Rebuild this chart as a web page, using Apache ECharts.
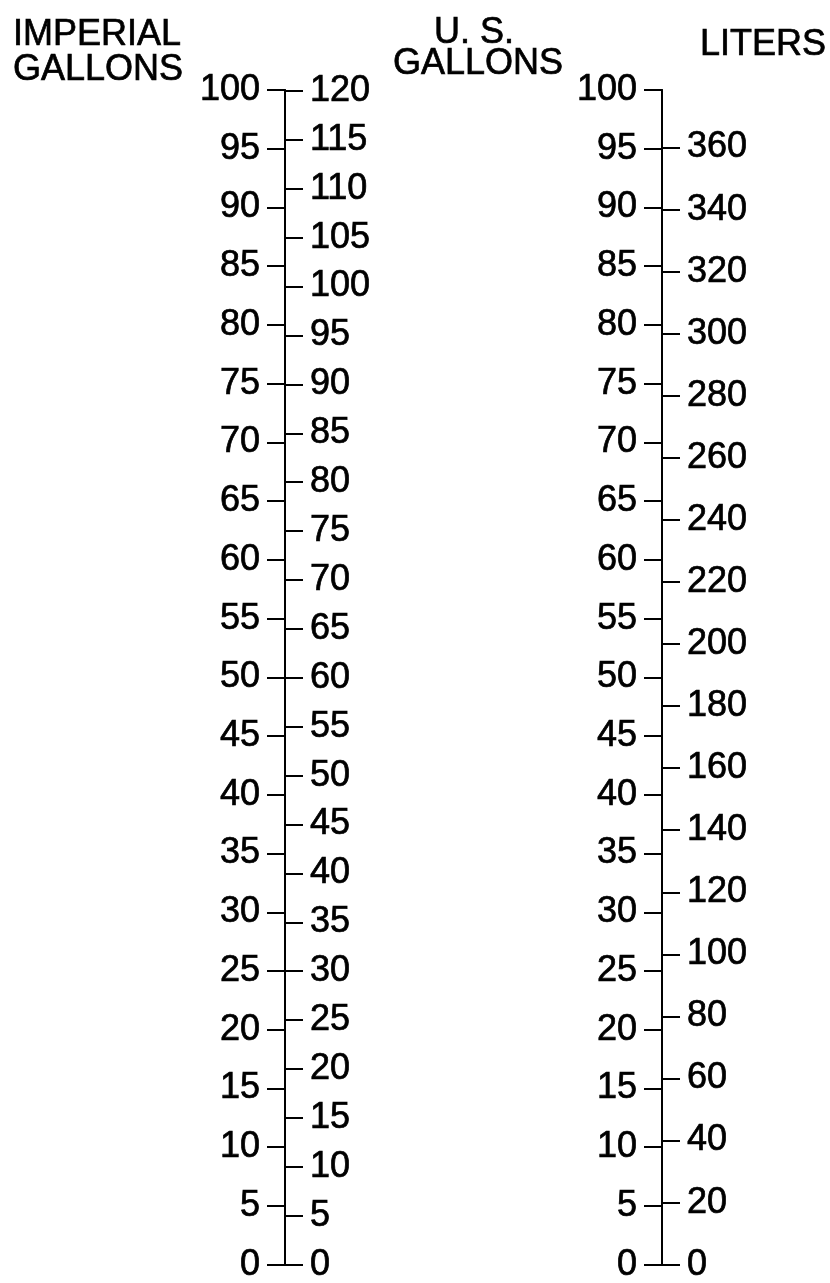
<!DOCTYPE html>
<html>
<head>
<meta charset="utf-8">
<script src="https://cdn.jsdelivr.net/npm/echarts@6/dist/echarts.min.js"></script>
<style>
  html, body { margin: 0; padding: 0; background: #fff; }
  #main { width: 830px; height: 1283px; }
</style>
</head>
<body>
<div id="main"></div>
<script>
// scale values
var impTicks = [0, 5, 10, 15, 20, 25, 30, 35, 40, 45, 50, 55, 60, 65, 70, 75, 80, 85, 90, 95, 100];
var usTicksLeft = [0, 5, 10, 15, 20, 25, 30, 35, 40, 45, 50, 55, 60, 65, 70, 75, 80, 85, 90, 95, 100, 105, 110, 115, 120];
var usTicksRight = [0, 5, 10, 15, 20, 25, 30, 35, 40, 45, 50, 55, 60, 65, 70, 75, 80, 85, 90, 95, 100];
var literTicks = [0, 20, 40, 60, 80, 100, 120, 140, 160, 180, 200, 220, 240, 260, 280, 300, 320, 340, 360];

// conversion factors
var usPerImp = 1.20095;
var litersPerUs = 3.78541;

var font = 'Liberation Sans, Arial, sans-serif';

function scaleAxis(grid, side, max, ticks, tickLen, margin) {
    return {
        type: 'value',
        gridIndex: grid,
        position: side,
        min: 0,
        max: max,
        splitLine: {show: false},
        axisLine: {show: true, onZero: false, lineStyle: {color: '#000', width: 2}},
        axisTick: {show: true, length: tickLen, customValues: ticks, lineStyle: {color: '#000', width: 2}},
        axisLabel: {
            show: true,
            customValues: ticks,
            margin: margin,
            color: '#000',
            fontSize: 36,
            fontFamily: font,
            textBorderColor: '#000',
            textBorderWidth: 0.7,
            padding: [5, 0, 0, 0],
            hideOverlap: false
        }
    };
}

function titleLine(text, x, y, align) {
    return {
        type: 'text', x: x, y: y,
        style: {
            text: text, font: '36px ' + font, fill: '#000',
            stroke: '#000', lineWidth: 0.7,
            align: align || 'left', verticalAlign: 'middle'
        }
    };
}

var myChart = echarts.init(document.getElementById('main'));

var option = {
    animation: false,
    backgroundColor: '#fff',
    grid: [
        {left: 285, width: 0, top: 90, height: 1176},
        {left: 662, width: 0, top: 90, height: 1176}
    ],
    xAxis: [
        {type: 'value', gridIndex: 0, show: false},
        {type: 'value', gridIndex: 1, show: false}
    ],
    yAxis: [
        scaleAxis(0, 'left', 100, impTicks, 18, 25),
        scaleAxis(0, 'right', 100 * usPerImp, usTicksLeft, 18, 25),
        scaleAxis(1, 'left', 100, usTicksRight, 18, 25),
        scaleAxis(1, 'right', 100 * litersPerUs, literTicks, 18, 25)
    ],
    // scale titles
    graphic: [
        titleLine('IMPERIAL', 13, 35),
        titleLine('GALLONS', 13, 70),
        titleLine('U. S.', 474, 33, 'center'),
        titleLine('GALLONS', 478, 64, 'center'),
        titleLine('LITERS', 700, 45)
    ],
    series: []
};
myChart.setOption(option);
</script>
</body>
</html>
